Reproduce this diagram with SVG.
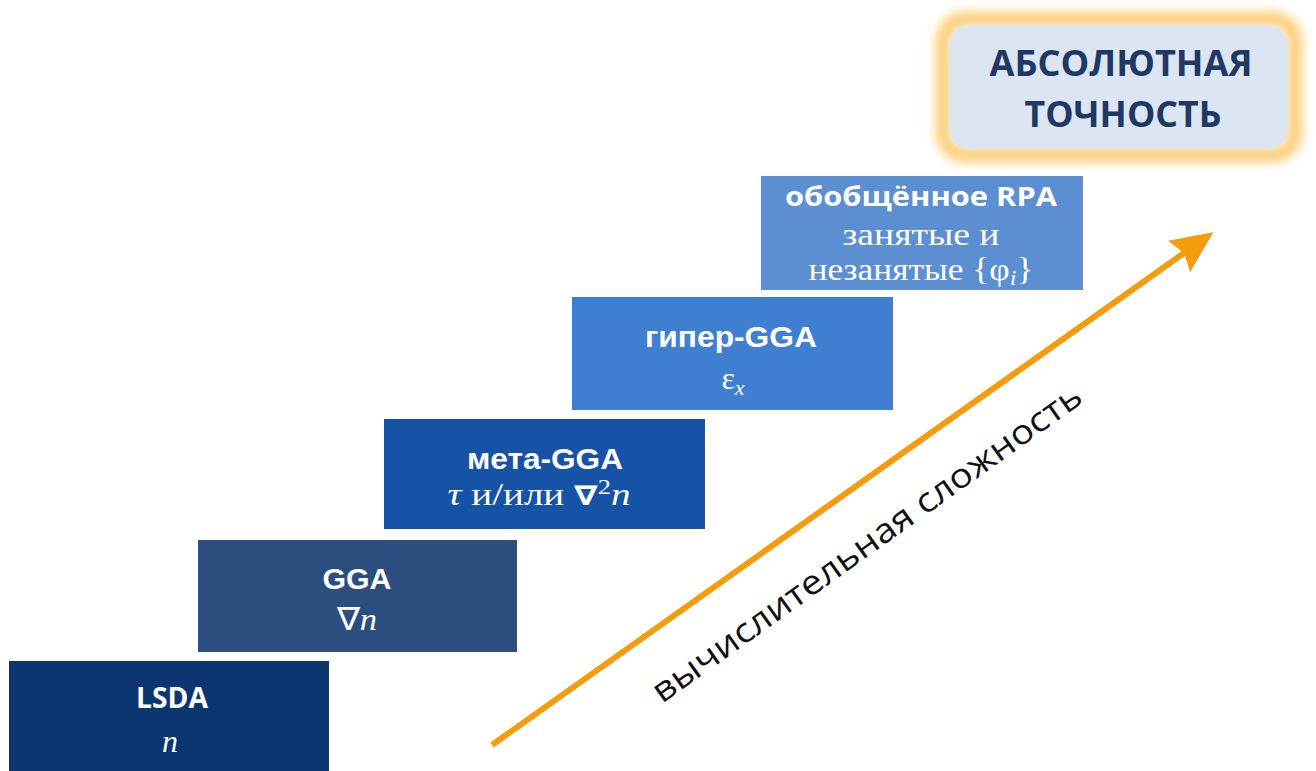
<svg xmlns="http://www.w3.org/2000/svg" width="1316" height="771" viewBox="0 0 1316 771">
  <defs>
    <filter id="glow" x="-20%" y="-30%" width="140%" height="160%">
      <feGaussianBlur stdDeviation="6"/>
    </filter>
    <marker id="arrowhead" markerWidth="8" markerHeight="8" refX="1" refY="3.2" orient="auto" markerUnits="strokeWidth">
      <path d="M0,0 L7,3.2 L0,6.4 L1,3.2 Z" fill="#f69b0c"/>
    </marker>
    <style>
      .title { font-family: "Open Sans", "Noto Sans", sans-serif; font-weight: bold; fill: #ffffff; text-anchor: middle; }
      .arial { font-family: "Liberation Sans", Arial, sans-serif; font-weight: bold; fill: #ffffff; text-anchor: middle; }
      .math { font-family: "Liberation Serif", "Times New Roman", serif; fill: #ffffff; text-anchor: middle; }
      .goal { font-family: "Open Sans", "Noto Sans", sans-serif; font-weight: bold; fill: #1f3864; text-anchor: middle; font-size: 35px; }
      .axis { font-family: "Open Sans", "Noto Sans", sans-serif; fill: #111111; font-size: 34px; }
    </style>
  </defs>
  <rect width="1316" height="771" fill="#ffffff"/>

  <g id="lsda">
    <rect x="9" y="661" width="320" height="110" fill="#0c3670"/>
    <text class="title" x="172" y="708" font-size="28" textLength="72" lengthAdjust="spacingAndGlyphs">LSDA</text>
    <text class="math" x="170" y="752" font-size="32" font-style="italic">n</text>
  </g>

  <g id="gga">
    <rect x="198" y="540" width="319" height="112" fill="#2b4e7e"/>
    <text class="arial" x="357" y="589" font-size="29" textLength="69" lengthAdjust="spacingAndGlyphs">GGA</text>
    <text class="math" x="357" y="630" font-size="32" textLength="40" lengthAdjust="spacingAndGlyphs">∇<tspan font-style="italic">n</tspan></text>
  </g>

  <g id="meta-gga">
    <rect x="384" y="419" width="321" height="110" fill="#1652a6"/>
    <text class="arial" x="545" y="469" font-size="30" textLength="156" lengthAdjust="spacingAndGlyphs">мета-GGA</text>
    <text class="math" x="539" y="505" font-size="31" textLength="183" lengthAdjust="spacingAndGlyphs"><tspan font-style="italic">τ</tspan> и/или <tspan font-weight="bold" font-family="DejaVu Sans" font-size="27">∇</tspan><tspan font-size="21" dy="-11">2</tspan><tspan font-style="italic" dy="11">n</tspan></text>
  </g>

  <g id="hyper-gga">
    <rect x="572" y="297" width="321" height="113" fill="#3e7fd1"/>
    <text class="arial" x="731" y="347" font-size="30" textLength="172" lengthAdjust="spacingAndGlyphs">гипер-GGA</text>
    <text class="math" x="733" y="389" font-size="32">ε<tspan font-size="22" font-style="italic" dy="6">x</tspan></text>
  </g>

  <g id="rpa">
    <rect x="761" y="176" width="322" height="114" fill="#5b8fd1"/>
    <text class="title" x="921" y="206" font-size="27" textLength="272" lengthAdjust="spacingAndGlyphs">обобщённое RPA</text>
    <text class="math" x="921" y="245" font-size="32" textLength="157" lengthAdjust="spacingAndGlyphs">занятые и</text>
    <text class="math" x="921" y="280" font-size="32" textLength="225" lengthAdjust="spacingAndGlyphs">незанятые {φ<tspan font-size="22" font-style="italic" dy="5">i</tspan><tspan dy="-5">}</tspan></text>
  </g>

  <g id="goal">
    <rect x="943" y="19" width="352" height="136" rx="22" fill="none" stroke="#fbbd4c" stroke-width="13" filter="url(#glow)" opacity="0.85"/>
    <rect x="950" y="25" width="338" height="124" rx="20" fill="#dce6f2"/>
    <text class="goal" x="1121" y="76" textLength="263" lengthAdjust="spacingAndGlyphs">АБСОЛЮТНАЯ</text>
    <text class="goal" x="1123" y="127" textLength="197" lengthAdjust="spacingAndGlyphs">ТОЧНОСТЬ</text>
  </g>

  <g id="connectors">
    <line x1="492" y1="745" x2="1184" y2="253" stroke="#f69b0c" stroke-width="6" marker-end="url(#arrowhead)"/>
    <text class="axis" transform="translate(662,704) rotate(-35.6)" textLength="520" lengthAdjust="spacingAndGlyphs">вычислительная  сложность</text>
  </g>
</svg>
